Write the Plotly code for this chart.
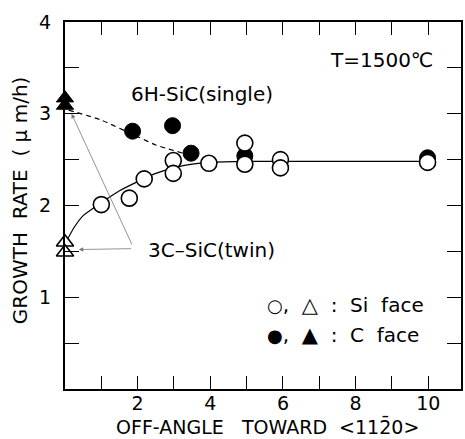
import plotly.graph_objects as go

# ---- data ----
si_circ_x = [1.0, 1.77, 2.18, 2.98, 2.98, 3.96, 4.95, 4.95, 5.93, 5.93, 9.98]
si_circ_y = [2.01, 2.08, 2.29, 2.49, 2.35, 2.46, 2.68, 2.45, 2.50, 2.41, 2.47]
c_circ_x = [1.86, 2.96, 3.47, 4.95, 9.98]
c_circ_y = [2.81, 2.87, 2.57, 2.54, 2.52]
si_tri_x = [0, 0]
si_tri_y = [1.60, 1.49]
c_tri_x = [0, 0]
c_tri_y = [3.17, 3.09]

fit_x = [0, 0.25, 0.5, 1, 1.5, 2, 2.5, 3, 3.5, 4, 5, 6, 10]
fit_y = [1.58, 1.76, 1.89, 2.03, 2.16, 2.26, 2.35, 2.41, 2.45, 2.47, 2.48, 2.48, 2.48]
dash_x = [0.1, 1.0, 2.0, 2.5, 3.25]
dash_y = [3.04, 2.93, 2.75, 2.66, 2.57]

x_ticks = [0, 1, 2, 3, 4, 5, 6, 7, 8, 9, 10]
x_tick_text = ["", "", "2", "", "4", "", "6", "", "8", "", "10"]
y_ticks = [0, 0.5, 1, 1.5, 2, 2.5, 3, 3.5, 4]
y_tick_text = ["", "", "1", "", "2", "", "3", "", "4"]

FONT = "DejaVu Sans, Liberation Sans, Arial, sans-serif"
CIR = '<span style="font-size:18px">'
TRI = '<span style="font-size:21px">'

fig = go.Figure()

fig.add_trace(go.Scatter(x=fit_x, y=fit_y, mode="lines",
                         line=dict(color="black", width=1.2, shape="spline", smoothing=0.6),
                         hoverinfo="skip", showlegend=False))
fig.add_trace(go.Scatter(x=dash_x, y=dash_y, mode="lines",
                         line=dict(color="black", width=1.2, dash="5px,4px", shape="spline", smoothing=0.6),
                         hoverinfo="skip", showlegend=False))

# filled (C face) circles first, open (Si face) on top
fig.add_trace(go.Scatter(x=c_circ_x, y=c_circ_y, mode="markers",
                         marker=dict(symbol="circle", size=16, color="black",
                                     line=dict(color="black", width=1)),
                         showlegend=False, cliponaxis=False))
fig.add_trace(go.Scatter(x=si_circ_x, y=si_circ_y, mode="markers",
                         marker=dict(symbol="circle", size=16, color="white",
                                     line=dict(color="black", width=1.6)),
                         showlegend=False, cliponaxis=False))
fig.add_trace(go.Scatter(x=si_tri_x, y=si_tri_y, mode="markers",
                         marker=dict(symbol="triangle-up", size=15, color="white",
                                     line=dict(color="black", width=1.6)),
                         showlegend=False, cliponaxis=False))
fig.add_trace(go.Scatter(x=c_tri_x, y=c_tri_y, mode="markers",
                         marker=dict(symbol="triangle-up", size=15, color="black",
                                     line=dict(color="black", width=1)),
                         showlegend=False, cliponaxis=False))

ann = []
# arrows from the 3C-SiC(twin) label
ann.append(dict(x=0.38, y=1.52, ax=1.86, ay=1.53, xref="x", yref="y", axref="x", ayref="y",
                text="", showarrow=True, arrowhead=2, arrowsize=1.1, arrowwidth=0.8,
                arrowcolor="#777"))
ann.append(dict(x=0.18, y=3.0, ax=1.86, ay=1.56, xref="x", yref="y", axref="x", ayref="y",
                text="", showarrow=True, arrowhead=2, arrowsize=1.1, arrowwidth=0.8,
                arrowcolor="#777"))

tf = dict(family=FONT, size=20, color="black")
ann.append(dict(x=1.75, y=3.21, xref="x", yref="y", text="6H-SiC(single)", showarrow=False,
                xanchor="left", yanchor="middle", font=tf))
ann.append(dict(x=2.22, y=1.52, xref="x", yref="y", text="3C\u2013SiC(twin)", showarrow=False,
                xanchor="left", yanchor="middle", font=tf))
ann.append(dict(x=8.71, y=3.59, xref="x", yref="y", text="T=1500\u2103", showarrow=False,
                xanchor="center", yanchor="middle", font=tf))
ann.append(dict(x=5.5, y=0.915, xref="x", yref="y",
                text=CIR + "\u25cb</span>,  " + TRI + "\u25b3</span>  :  Si  face", showarrow=False,
                xanchor="left", yanchor="middle", font=tf))
ann.append(dict(x=5.5, y=0.59, xref="x", yref="y",
                text=CIR + "\u25cf</span>,  " + TRI + "\u25b2</span>  :  C  face", showarrow=False,
                xanchor="left", yanchor="middle", font=tf))
# corner zero
ann.append(dict(x=-0.55, y=-0.14, xref="x", yref="y", text="0", showarrow=False,
                xanchor="center", yanchor="middle", font=dict(family=FONT, size=19, color="black")))
# axis titles
ann.append(dict(x=0.5126, y=-0.103, xref="paper", yref="paper",
                text="OFF-ANGLE   TOWARD  &lt;112\u03040&gt;", showarrow=False,
                xanchor="center", yanchor="middle", font=dict(family=FONT, size=19, color="black")))
ann.append(dict(x=-0.113, y=0.515, xref="paper", yref="paper",
                text="GROWTH  RATE  ( \u03bc m/h)", showarrow=False, textangle=-90,
                xanchor="center", yanchor="middle", font=dict(family=FONT, size=20, color="black")))

fig.update_layout(
    width=465, height=439,
    margin=dict(l=65, r=2, t=22, b=50),
    paper_bgcolor="white", plot_bgcolor="white",
    font=dict(family=FONT, size=19, color="black"),
    annotations=ann,
    showlegend=False,
)
fig.update_xaxes(range=[0, 10.9], tickmode="array", tickvals=x_ticks, ticktext=x_tick_text,
                 ticks="inside", ticklen=13, tickwidth=1.3, tickcolor="black",
                 showline=True, linewidth=2, linecolor="black", mirror="ticks",
                 showgrid=False, zeroline=False, tickfont=dict(size=19), ticklabelstandoff=-4)
fig.update_yaxes(range=[0, 4], tickmode="array", tickvals=y_ticks, ticktext=y_tick_text,
                 ticks="inside", ticklen=14, tickwidth=1.3, tickcolor="black",
                 showline=True, linewidth=2, linecolor="black", mirror="ticks",
                 showgrid=False, zeroline=False, tickfont=dict(size=19), ticklabelstandoff=8)

fig.write_html("out.html")
